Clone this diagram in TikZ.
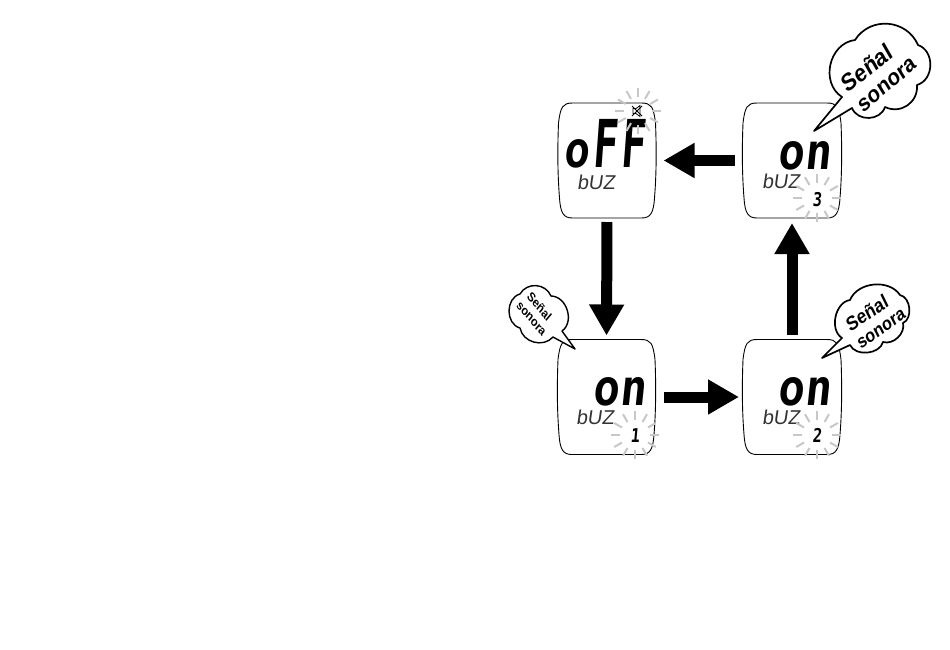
\documentclass[tikz,border=0pt]{standalone}
\usepackage{fontspec}
\usetikzlibrary{arrows.meta,calc}
\setmainfont{Liberation Sans}
\newfontfamily\lcdbig[FakeSlant=0.12]{DejaVu Sans Mono Bold}
\newfontfamily\lcdthin[FakeSlant=0.15]{Liberation Sans}
\tikzset{
  lcdframe/.style={draw=black,line width=0.9pt,fill=white},
  anchorbox/.style={minimum width=#1,minimum height=115pt,inner sep=0pt,outer sep=0pt},
  blockarrow/.style={line width=11pt,-{Triangle[width=33pt,length=31pt,sharp]},black},
  bubble/.style={draw=black,line width=1.7pt,fill=white,line join=round},
  lobe/.style={bend left=#1},
  rlobe/.style={bend right=#1},
  bubbletext/.style={font=\bfseries,inner sep=0pt,yscale=1.18},
  burst/.style={draw=black!22,line width=2pt},
  lcdword/.style={inner sep=0pt,text=black,anchor=base},
  lcdlabel/.style={font=\lcdthin\fontsize{20}{20}\selectfont,inner sep=0pt,text=black!80,anchor=base},
  lcddigit/.style={font=\lcdbig\fontsize{19}{19}\selectfont,inner sep=0pt,text=black,anchor=base,xscale=.8},
}
\newcommand{\lcdcase}[1]{%
  \draw[lcdframe] ([xshift=14pt]#1.north west) -- ([xshift=-14pt]#1.north east)
    .. controls ([xshift=-4pt]#1.north east) and ([yshift=-4pt,xshift=-2pt]#1.north east) .. ([yshift=-20pt]#1.north east)
    .. controls ([yshift=-45pt,xshift=1pt]#1.north east) and ([yshift=45pt,xshift=1pt]#1.south east) .. ([yshift=20pt,xshift=-1pt]#1.south east)
    .. controls ([yshift=5pt,xshift=-2pt]#1.south east) and ([xshift=-5pt]#1.south east) .. ([xshift=-14pt]#1.south east)
    -- ([xshift=14pt]#1.south west)
    .. controls ([xshift=5pt]#1.south west) and ([yshift=5pt,xshift=2pt]#1.south west) .. ([yshift=20pt,xshift=1pt]#1.south west)
    .. controls ([yshift=45pt,xshift=-1pt]#1.south west) and ([yshift=-45pt,xshift=-1pt]#1.north west) .. ([yshift=-20pt]#1.north west)
    .. controls ([yshift=-4pt,xshift=2pt]#1.north west) and ([xshift=4pt]#1.north west) .. ([xshift=14pt]#1.north west) -- cycle;}
\newcommand{\raysat}[3]{%
  \foreach \a in {0,30,...,330}{\draw[burst] ($(#1,#2)+(\a:#3)$) -- ($(#1,#2)+(\a:#3+9)$);}}
\newcommand{\onword}{\lcdbig\fontsize{50}{50}\selectfont\scalebox{.88}[1]{on}}
\begin{document}
\begin{tikzpicture}[x=1pt,y=-1pt]
\useasboundingbox (0,0) rectangle (950,649);
\fill[white] (0,0) rectangle (950,649);
% anchors of the four displays
\node[anchorbox=97pt] (boxoff) at (607,160.5) {};
\node[anchorbox=98pt] (boxthree) at (792,160.5) {};
\node[anchorbox=97pt] (boxone) at (606.5,397) {};
\node[anchorbox=98pt] (boxtwo) at (792,397) {};
\lcdcase{boxoff}\lcdcase{boxthree}\lcdcase{boxone}\lcdcase{boxtwo}
% arrows
\draw[blockarrow,shorten >=8pt,shorten <=8pt] (boxthree.west) -- (boxoff.east);
\draw[blockarrow,shorten >=4pt,shorten <=4pt] (boxoff.south) -- (boxone.north);
\draw[blockarrow,shorten >=4pt,shorten <=9pt] (boxone.east) -- (boxtwo.west);
\draw[blockarrow,shorten >=5pt,shorten <=5pt] (boxtwo.north) -- (boxthree.south);
% display words
\node[lcdword] (woff) at (604,167.5) {\lcdbig\fontsize{50}{50}\selectfont\scalebox{.85}[1]{o}\hspace{4pt}\fontsize{66}{66}\selectfont\scalebox{.62}[1]{F}\hspace{3pt}\scalebox{.62}[1]{F}};
\node[lcdword] (won3) at (804,169.5) {\onword};
\node[lcdword] (won1) at (619,405.5) {\onword};
\node[lcdword] (won2) at (804,405.5) {\onword};
\node[lcdlabel] (l0) at (596,189) {bUZ};
\node[lcdlabel] (l3) at (781,188) {bUZ};
\node[lcdlabel] (l1) at (595,424) {bUZ};
\node[lcdlabel] (l2) at (781,424) {bUZ};
\node[lcddigit] (d3) at (817,206) {3};
\node[lcddigit] (d2) at (817,442) {2};
\node[lcddigit] (d1) at (635,442) {1};
% bursts
\raysat{638}{111}{14}
\raysat{817}{198}{15}
\raysat{817}{435}{15}
\raysat{635}{435}{15}
% muted speaker
\draw[black,line width=0.8pt,fill=white] (633,108.5) -- (636,108.5) -- (640,105.5) -- (640,116.5) -- (636,113.5) -- (633,113.5) -- cycle;
\draw[black,line width=0.8pt] (632,106) -- (642,116) (632,116) -- (642,106);
% bubbles
\draw[bubble] (814,131) -- (842,97) to[lobe=70,looseness=1.15] (855,40) to[lobe=62,looseness=1.15] (918,45) to[lobe=72,looseness=1.15] (917,85) to[lobe=60,looseness=1.15] (885,107) to[lobe=70,looseness=1.15] (852,108) -- cycle;
\node[bubbletext,font=\bfseries\fontsize{21}{21}\selectfont,rotate=34] (s3a) at (867,68) {Señal};
\node[bubbletext,font=\bfseries\fontsize{20}{20}\selectfont,rotate=36] (s3b) at (887.5,85) {sonora};
\draw[bubble] (822,358) -- (842,338) to[lobe=70] (850,300) to[lobe=62] (900,295) to[lobe=72] (903,323) to[lobe=60] (883,342) to[lobe=70] (850,345) -- cycle;
\node[bubbletext,font=\bfseries\fontsize{17}{17}\selectfont,rotate=30] (s2a) at (867,313) {Señal};
\node[bubbletext,font=\bfseries\fontsize{16}{16}\selectfont,rotate=31] (s2b) at (881.5,329) {sonora};
\draw[bubble,line width=1.4pt] (575,349) -- (562,331) to[rlobe=72,looseness=1.1] (551,296) to[rlobe=64,looseness=1.15] (520,294) to[rlobe=74,looseness=1.15] (520,328) to[rlobe=64,looseness=1.1] (553,337) -- cycle;
\node[bubbletext,font=\bfseries\fontsize{11}{11}\selectfont,rotate=-45] (s1a) at (539.5,306.5) {Señal};
\node[bubbletext,font=\bfseries\fontsize{11}{11}\selectfont,rotate=-45] (s1b) at (531,319) {sonora};
\end{tikzpicture}
\end{document}
